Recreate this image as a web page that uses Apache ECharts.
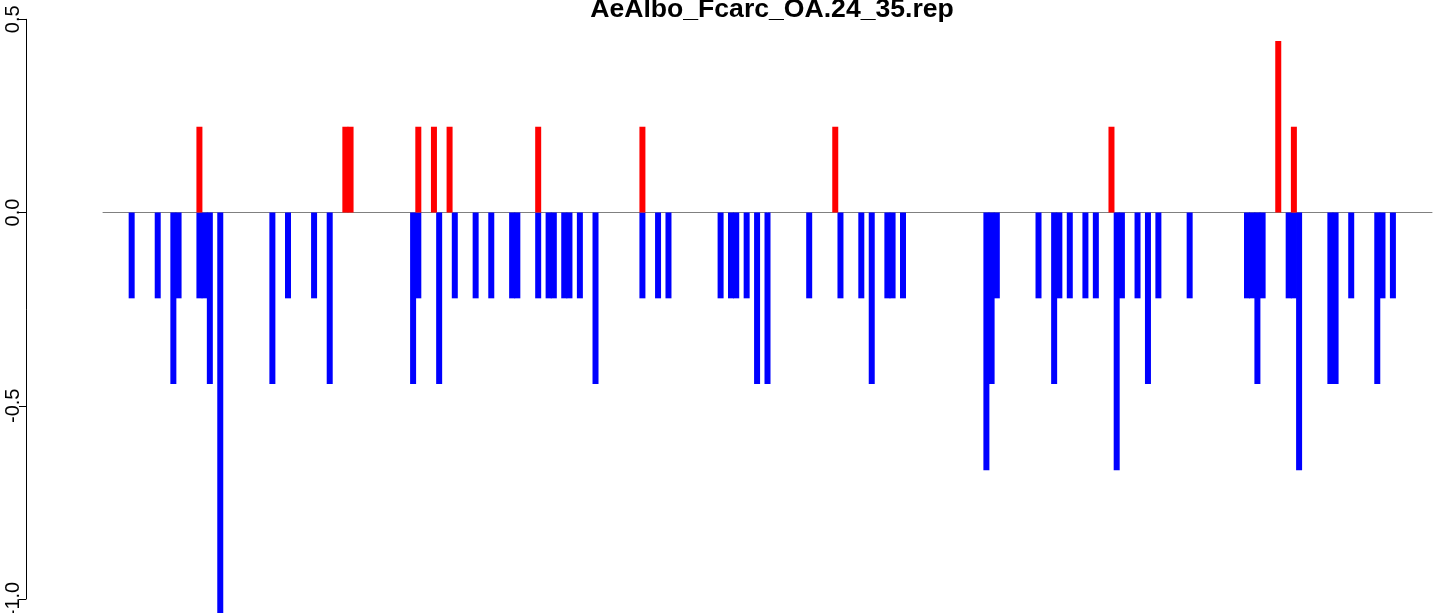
<!DOCTYPE html>
<html>
<head>
<meta charset="utf-8">
<script src="https://cdn.jsdelivr.net/npm/echarts@6/dist/echarts.min.js"></script>
<style>html,body{margin:0;padding:0;background:#fff}#c{width:1444px;height:613px}</style>
</head>
<body>
<div id="c"></div>
<script>
// Chart title
const chartTitle = 'AeAlbo_Fcarc_OA.24_35.rep';
// y-axis tick values
const yTicks = [-1.0, -0.5, 0.0, 0.5];
// positions (marker index) of negative (blue) bars and their values
const negPos = [6, 11, 14, 15, 19, 20, 21, 23, 33, 36, 41, 44, 60, 61, 65, 68, 72, 75, 79, 80,
  84, 86, 87, 89, 90, 92, 95, 104, 107, 109, 119, 121, 122, 124, 126, 128, 136, 142, 146, 148,
  151, 152, 154, 170, 171, 172, 180, 183, 184, 186, 189, 191, 195, 196, 199, 201, 203, 209, 220, 221,
  222, 223, 228, 229, 230, 236, 237, 240, 245, 246, 248];
const negVal = [-0.222, -0.222, -0.444, -0.222, -0.222, -0.222, -0.444, -1.111, -0.444, -0.222, -0.222, -0.444, -0.444, -0.222, -0.444, -0.222, -0.222, -0.222, -0.222, -0.222,
  -0.222, -0.222, -0.222, -0.222, -0.222, -0.222, -0.444, -0.222, -0.222, -0.222, -0.222, -0.222, -0.222, -0.222, -0.444, -0.444, -0.222, -0.222, -0.222, -0.444,
  -0.222, -0.222, -0.222, -0.667, -0.444, -0.222, -0.222, -0.444, -0.222, -0.222, -0.222, -0.222, -0.667, -0.222, -0.222, -0.444, -0.222, -0.222, -0.222, -0.222,
  -0.444, -0.222, -0.222, -0.222, -0.667, -0.444, -0.444, -0.222, -0.444, -0.222, -0.222];
// positions of positive (red) bars and their values
const posPos = [19, 47, 48, 61, 64, 67, 84, 104, 141, 194, 226, 229];
const posVal = [0.222, 0.222, 0.222, 0.222, 0.222, 0.222, 0.222, 0.222, 0.222, 0.222, 0.444, 0.222];
// x range of the plot
const xMin = 0.5, xMax = 255.5;

const negData = negPos.map((p, i) => [p, negVal[i]]);
const posData = posPos.map((p, i) => [p, posVal[i]]);

const chart = echarts.init(document.getElementById('c'), null, {renderer: 'canvas'});
const fam = '"Liberation Sans", Arial, Helvetica, sans-serif';
chart.setOption({
  animation: false,
  backgroundColor: '#ffffff',
  title: {
    text: chartTitle,
    left: 767,
    textAlign: 'center',
    top: -9,
    textStyle: {fontFamily: fam, fontWeight: 'bold', fontSize: 26.6, color: '#000'}
  },
  grid: {left: 103, right: 12, top: 19.3, bottom: 14, outerBoundsMode: 'none', containLabel: false},
  xAxis: {
    type: 'value', min: xMin, max: xMax,
    axisLine: {show: true, onZero: true, lineStyle: {color: '#808080', width: 1}},
    axisTick: {show: false}, axisLabel: {show: false}, splitLine: {show: false}
  },
  yAxis: {
    type: 'value', min: -1.0, max: 0.5, interval: 0.5,
    offset: 77,
    axisLine: {show: true, lineStyle: {color: '#000', width: 1}},
    axisTick: {show: true, length: 7, lineStyle: {color: '#000', width: 1}},
    axisLabel: {
      rotate: 90, margin: 3, fontSize: 20, fontFamily: fam, color: '#000',
      formatter: v => yTicks.includes(v) ? v.toFixed(1) : ''
    },
    splitLine: {show: false}
  },
  series: [
    {type: 'bar', name: 'neg', data: negData, barWidth: 6, barGap: '-100%', clip: false,
     itemStyle: {color: '#0000ff'}},
    {type: 'bar', name: 'pos', data: posData, barWidth: 6, barGap: '-100%', clip: false,
     itemStyle: {color: '#ff0000'}}
  ]
});
</script>
</body>
</html>
